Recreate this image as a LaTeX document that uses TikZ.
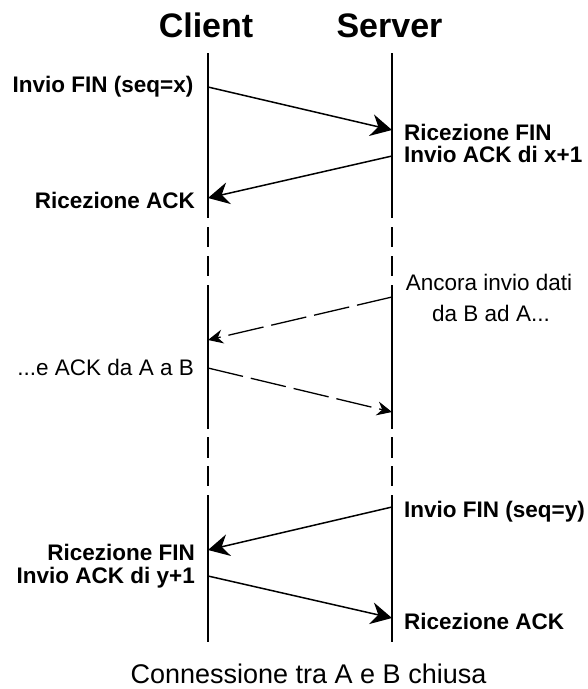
\documentclass[tikz,border=0pt]{standalone}
\usepackage{fontspec}
\setmainfont{Liberation Sans}
\usetikzlibrary{arrows.meta}
\begin{document}
\begin{tikzpicture}[x=1pt,y=-1pt,
  lifeline/.style={line width=1.6pt,
    dash pattern=on 165pt off 9pt on 20pt off 9pt on 20pt off 9pt on 144pt off 8pt on 21pt off 8pt on 20pt off 9pt on 160pt},
  msg/.style={line width=1.5pt, -{Stealth[length=21pt,width=22pt,inset=7pt]}},
  aside/.style={line width=1.3pt, dash pattern=on 36pt off 8pt,
    -{Stealth[length=15pt,width=14pt,inset=5pt]}},
  head/.style={font=\fontsize{34}{40}\selectfont\bfseries, inner sep=0pt, anchor=base},
  blabel/.style={font=\fontsize{22.5}{27}\selectfont\bfseries, inner sep=0pt},
  plabel/.style={font=\fontsize{22.5}{27}\selectfont, inner sep=0pt},
]
% page
\fill[white] (0,0) rectangle (588,689);
\useasboundingbox (0,0) rectangle (588,689);

% column headings
\node[head] (client) at (206,37) {Client};
\node[head] (server) at (389.5,37) {Server};

% lifelines, broken where time passes
\coordinate (ctop) at (208,53);
\coordinate (cbot) at (208,642);
\coordinate (stop) at (392,53);
\coordinate (sbot) at (392,642);
\draw[lifeline] (ctop) -- (cbot);
\draw[lifeline] (stop) -- (sbot);

% message end points on the lifelines
\coordinate (a1s) at (208,87);  \coordinate (a1e) at (392,130);
\coordinate (a2s) at (392,156); \coordinate (a2e) at (208,198);
\coordinate (a3s) at (392,297); \coordinate (a3e) at (208,340);
\coordinate (a4s) at (208,368); \coordinate (a4e) at (392,412);
\coordinate (a5s) at (392,507); \coordinate (a5e) at (208,550);
\coordinate (a6s) at (208,576); \coordinate (a6e) at (392,618);

% messages
\draw[msg] (a1s) -- (a1e);
\draw[msg] (a2s) -- (a2e);
\draw[aside] (a3s) -- (a3e);
\draw[aside] (a4s) -- (a4e);
\draw[msg] (a5s) -- (a5e);
\draw[msg] (a6s) -- (a6e);

% client side labels
\node[blabel, anchor=base east] (finx) at (193.5,92) {Invio FIN (seq=x)};
\node[blabel, anchor=base east] (ackc) at (195,208) {Ricezione ACK};
\node[plabel, anchor=base east] (ackab) at (194,375) {...e ACK da A a B};
\node[blabel, anchor=base east] (rfinc) at (195,560) {Ricezione FIN};
\node[blabel, anchor=base east] (acky) at (195,583) {Invio ACK di y+1};

% server side labels
\node[blabel, anchor=base west] (rfins) at (404,140) {Ricezione FIN};
\node[blabel, anchor=base west] (ackx) at (404,162.5) {Invio ACK di x+1};
\node[plabel, anchor=base] (data1) at (489,290) {Ancora invio dati};
\node[plabel, anchor=base] (data2) at (491,321) {da B ad A...};
\node[blabel, anchor=base west] (finy) at (404,517) {Invio FIN (seq=y)};
\node[blabel, anchor=base west] (acks) at (404,629) {Ricezione ACK};

% closing note
\node[font=\fontsize{27}{32}\selectfont, inner sep=0pt, anchor=base] (closed) at (308.5,683) {Connessione tra A e B chiusa};
\end{tikzpicture}
\end{document}
